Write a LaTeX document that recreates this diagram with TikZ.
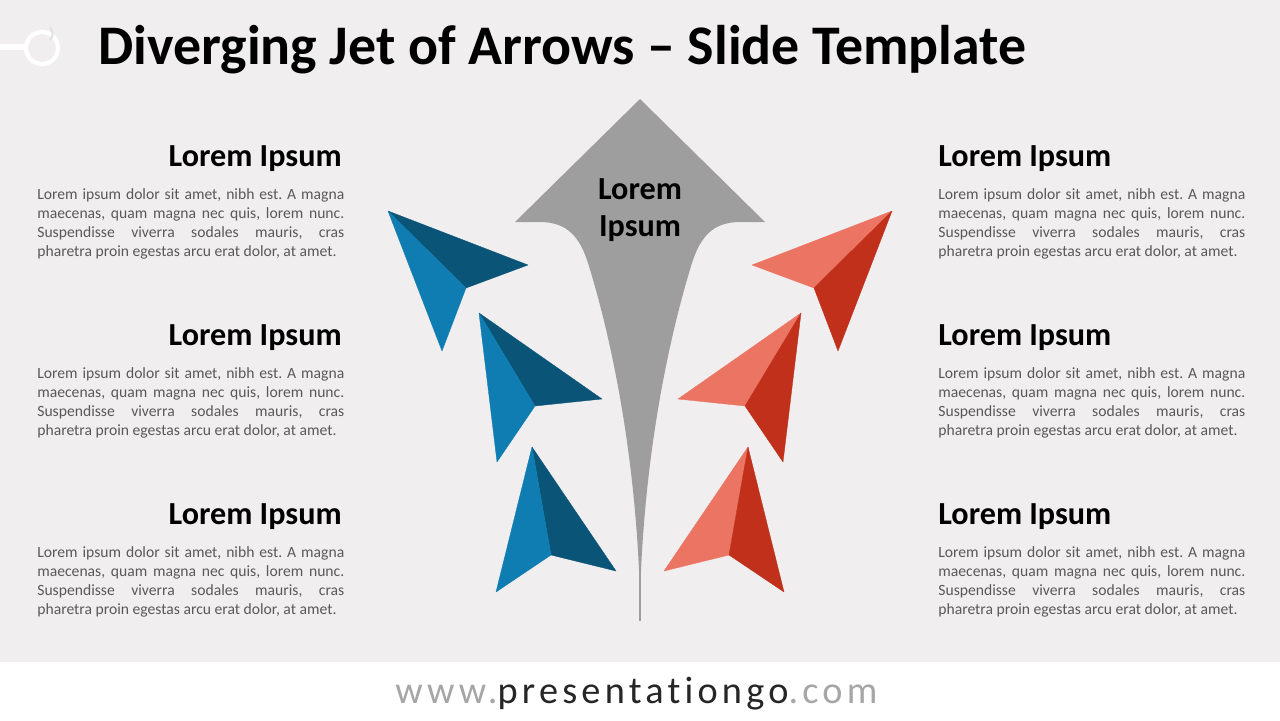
\documentclass[tikz,border=0pt]{standalone}
\usepackage{fontspec}
\setmainfont{Carlito}
\usepackage{tikz}
\usetikzlibrary{positioning}
\usepackage{xcolor}
\frenchspacing

\definecolor{slidebg}{HTML}{F0EEEF}
\definecolor{arrowgray}{HTML}{9E9E9E}
\definecolor{bluelight}{HTML}{0F7DB1}
\definecolor{bluedark}{HTML}{0A5478}
\definecolor{redlight}{HTML}{EC7463}
\definecolor{reddark}{HTML}{C0301A}
\definecolor{bodygray}{HTML}{595959}
\definecolor{urlgray}{HTML}{A6A6A6}
\definecolor{urldark}{HTML}{262626}

\newcommand{\loremtext}{Lorem ipsum dolor sit amet, nibh est. A magna\linebreak
maecenas, quam magna nec quis, lorem nunc.\linebreak
Suspendisse viverra sodales mauris, cras\linebreak
pharetra proin egestas arcu erat dolor, at amet.}

\begin{document}
\begin{tikzpicture}[x=0.02cm,y=-0.02cm,
    facet/.style={line width=0.2pt,line join=round},
    headtext/.style={inner sep=0,font=\fontsize{18.3}{22}\selectfont\bfseries},
    bodytext/.style={inner sep=0,text width=6.14cm,align=justify,text=bodygray,
        font=\fontsize{8.9}{10.8}\selectfont}]

\fill[slidebg] (0,0) rectangle (1280,662);
\fill[white] (0,662) rectangle (1280,720);
\useasboundingbox (0,0) rectangle (1280,720);

% corner mark
\draw[white,line width=3.4pt] (0,47)--(25,47);
\draw[white,line width=2.4pt] (42,48) circle [radius=16];
\draw[black!12,line width=1pt] (50,40) arc (45:-45:9);

\node[anchor=base west,inner sep=0,font=\fontsize{31.8}{36}\selectfont\bfseries] (title) at (98,64) {Diverging Jet of Arrows -- Slide Template};

% central arrow
\fill[arrowgray] (515,222)--(540,222) .. controls (568,222) and (580,238) .. (588,263)
    .. controls (615,350) and (637,470) .. (640,600)
    .. controls (643,470) and (665,350) .. (692,263)
    .. controls (700,238) and (712,222) .. (740,222)--(765,222)--(640,99)--cycle;
\draw[arrowgray,line width=0.8pt] (640,560)--(640,621);
\node[headtext,align=center] (core) at (640,210) {Lorem\\[-1pt]Ipsum};

% blue arrows
\filldraw[facet,fill=bluedark,draw=bluedark] (388,211)--(528,265)--(466,288)--cycle;
\filldraw[facet,fill=bluelight,draw=bluelight] (388,211)--(466,288)--(442,351)--cycle;

\filldraw[facet,fill=bluedark,draw=bluedark] (479,313)--(602,399)--(535,406)--cycle;
\filldraw[facet,fill=bluelight,draw=bluelight] (479,313)--(535,406)--(497,462)--cycle;

\filldraw[facet,fill=bluedark,draw=bluedark] (532,447)--(616,571)--(551,555)--cycle;
\filldraw[facet,fill=bluelight,draw=bluelight] (532,447)--(551,555)--(496,592)--cycle;

% red arrows
\filldraw[facet,fill=redlight,draw=redlight] (892,211)--(752,265)--(814,288)--cycle;
\filldraw[facet,fill=reddark,draw=reddark] (892,211)--(814,288)--(838,351)--cycle;

\filldraw[facet,fill=redlight,draw=redlight] (801,313)--(678,399)--(745,406)--cycle;
\filldraw[facet,fill=reddark,draw=reddark] (801,313)--(745,406)--(783,462)--cycle;

\filldraw[facet,fill=redlight,draw=redlight] (748,447)--(664,571)--(729,555)--cycle;
\filldraw[facet,fill=reddark,draw=reddark] (748,447)--(729,555)--(784,592)--cycle;

% left texts
\node[headtext,anchor=base east] (lhead1) at (342,166) {Lorem Ipsum};
\node[bodytext,anchor=north west] (lbody1) at (37,188) {\loremtext};
\node[headtext,anchor=base east] (lhead2) at (342,345) {Lorem Ipsum};
\node[bodytext,anchor=north west] (lbody2) at (37,367) {\loremtext};
\node[headtext,anchor=base east] (lhead3) at (342,524) {Lorem Ipsum};
\node[bodytext,anchor=north west] (lbody3) at (37,546) {\loremtext};

% right texts
\node[headtext,anchor=base west] (rhead1) at (938,166) {Lorem Ipsum};
\node[bodytext,anchor=north west] (rbody1) at (938,188) {\loremtext};
\node[headtext,anchor=base west] (rhead2) at (938,345) {Lorem Ipsum};
\node[bodytext,anchor=north west] (rbody2) at (938,367) {\loremtext};
\node[headtext,anchor=base west] (rhead3) at (938,524) {Lorem Ipsum};
\node[bodytext,anchor=north west] (rbody3) at (938,546) {\loremtext};

\node[anchor=base west,inner sep=0,font=\fontsize{21.8}{24}\selectfont\addfontfeatures{LetterSpace=11,Ligatures=NoCommon}] (site) at (395,703)
    {\textcolor{urlgray}{www.}\textcolor{urldark}{presentationgo}\textcolor{urlgray}{.com}};

\end{tikzpicture}
\end{document}
